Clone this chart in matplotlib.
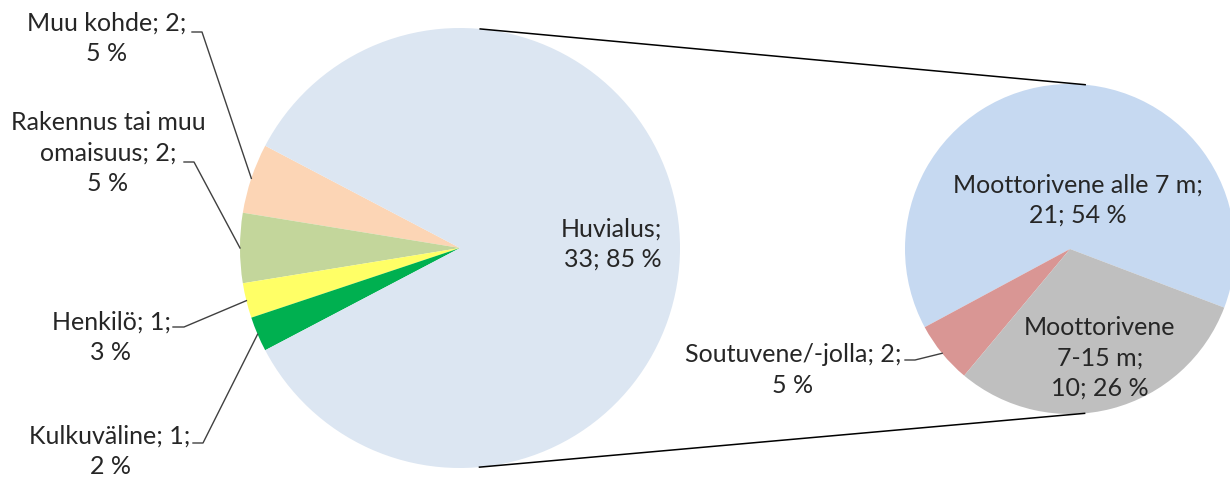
import numpy as np
import matplotlib.pyplot as plt

W, H = 1230, 480

# main pie
main_names = ['Muu kohde', 'Rakennus tai muu\nomaisuus', 'Henkilö', 'Kulkuväline', 'Huvialus']
main_values = [2, 2, 1, 1, 33]
main_pcts = [5, 5, 3, 2, 85]
main_colors = ['#FCD5B5', '#C3D69B', '#FFFF66', '#00B050', '#DCE6F2']

# second pie = Huvialus split up
sub_names = ['Moottorivene alle 7 m', 'Soutuvene/-jolla', 'Moottorivene\n7-15 m']
sub_values = [21, 2, 10]
sub_pcts = [54, 5, 26]
sub_colors = ['#C6D9F1', '#D99694', '#BFBFBF']

txt_color = '#262626'
plt.rcParams['font.family'] = ['Lato', 'DejaVu Sans']
FS = 18
LS = 1.38


def up(y):
    # pixel-from-top -> data y
    return H - y


def outside(n, v, p):
    return '{}; {};\n{} %'.format(n, v, p)


def inside(n, v, p):
    return '{};\n{}; {} %'.format(n, v, p)


fig = plt.figure(figsize=(W / 100, H / 100), dpi=100)
ax = fig.add_axes([0, 0, 1, 1])

c1 = np.array([460.0, up(248)])
r1 = 220
c2 = np.array([1070.0, up(249)])
r2 = 165

small = sum(main_values[:-1])
start1 = 180 - 360 * small / sum(main_values) / 2
w1, _ = ax.pie(main_values, colors=main_colors, startangle=start1, center=tuple(c1),
               radius=r1, counterclock=True, wedgeprops=dict(linewidth=0))
w2, _ = ax.pie(sub_values, colors=sub_colors, startangle=-20.8, center=tuple(c2),
               radius=r2, counterclock=True, wedgeprops=dict(linewidth=0))

# tangent connector lines between the two pies
d = c2 - c1
dist = np.hypot(*d)
phi = np.arctan2(d[1], d[0])
th = np.arccos((r1 - r2) / dist)
for s in (1, -1):
    a = phi + s * th
    p1 = c1 + r1 * np.array([np.cos(a), np.sin(a)])
    p2 = c2 + r2 * np.array([np.cos(a), np.sin(a)])
    ax.plot([p1[0], p2[0]], [p1[1], p2[1]], color='#000000', lw=1.1)


def edge_point(w, c, r):
    m = np.deg2rad((w.theta1 + w.theta2) / 2)
    return c + r * np.array([np.cos(m), np.sin(m)])


# outside labels: text centre, leader start x, elbow x, elbow y (pixels from top)
out_pos = {
    0: ((107, 38), 192, 202, 32),
    1: ((108, 153), 184, 194, 162),
    2: ((111, 337), 173, 184, 327),
    3: ((110, 451), 193, 203, 443),
}
for i, (tc, xs, xe, ye) in out_pos.items():
    ax.text(tc[0], up(tc[1]), outside(main_names[i], main_values[i], main_pcts[i]),
            ha='center', va='center', fontsize=FS, color=txt_color, linespacing=LS)
    ep = edge_point(w1[i], c1, r1)
    ax.plot([xs, xe, ep[0]], [up(ye), up(ye), ep[1]], color='#404040', lw=1.0)

ax.text(662, up(244), inside(main_names[4], main_values[4], main_pcts[4]),
        ha='right', va='center', fontsize=FS, color=txt_color, linespacing=LS,
        multialignment='right')

ax.text(1078, up(200), inside(sub_names[0], sub_values[0], sub_pcts[0]),
        ha='center', va='center', fontsize=FS, color=txt_color, linespacing=LS)
ax.text(1100, up(358), inside(sub_names[2], sub_values[2], sub_pcts[2]),
        ha='center', va='center', fontsize=FS, color=txt_color, linespacing=LS)

ax.text(793, up(370), outside(sub_names[1], sub_values[1], sub_pcts[1]),
        ha='center', va='center', fontsize=FS, color=txt_color, linespacing=LS)
ep = edge_point(w2[1], c2, r2)
ax.plot([905, 915, ep[0]], [up(360), up(360), ep[1]], color='#404040', lw=1.0)

ax.set_xlim(0, W)
ax.set_ylim(0, H)
ax.set_aspect('auto')
ax.set_axis_off()

fig.savefig('out.png', dpi=100, facecolor='white')
